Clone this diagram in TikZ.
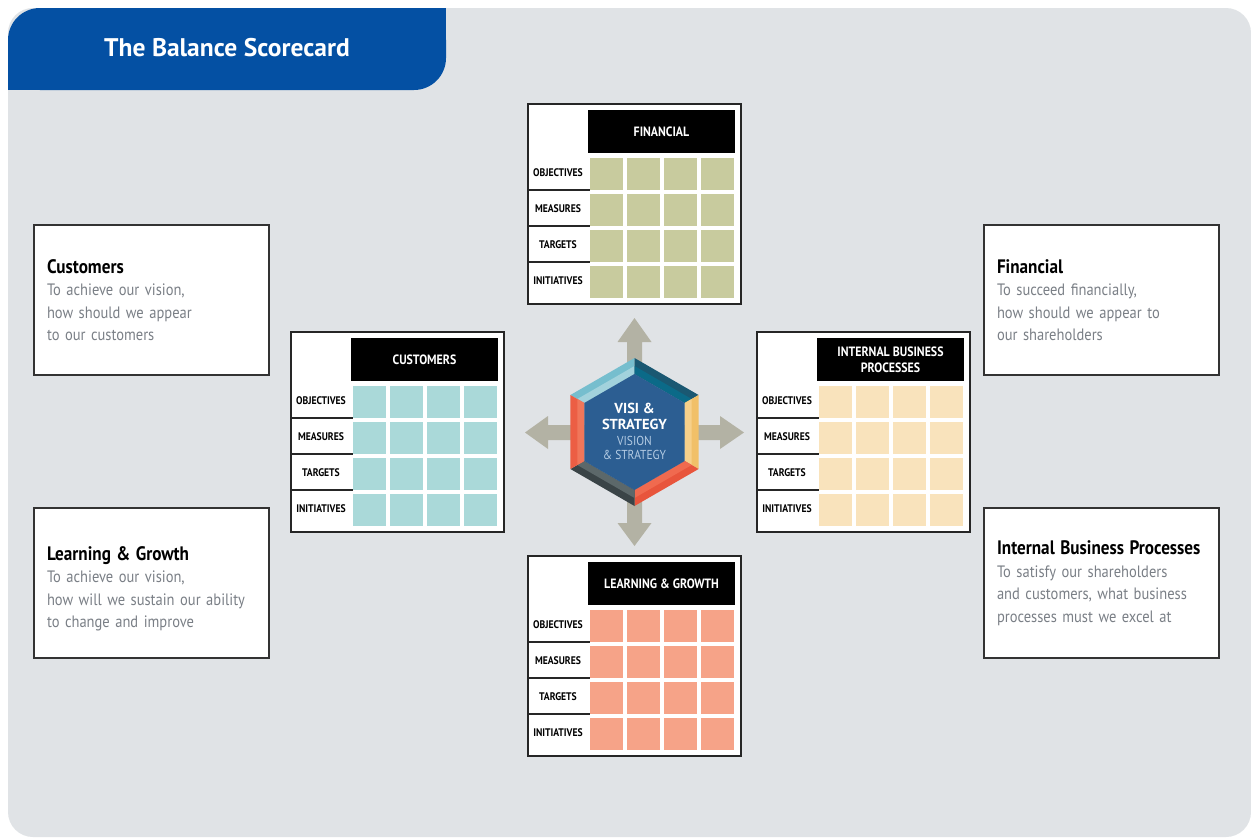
\documentclass[tikz,border=0pt]{standalone}
\usepackage{fontspec}
\setmainfont{PT Sans}
\newfontfamily\condfont{PT Sans}[FakeStretch=0.88]
\usetikzlibrary{calc}
\definecolor{panel}{HTML}{E0E3E6}
\definecolor{tabblue}{HTML}{0450A3}
\definecolor{finfill}{HTML}{C8CB9E}
\definecolor{custfill}{HTML}{AAD9D9}
\definecolor{ibpfill}{HTML}{F9E3BC}
\definecolor{learnfill}{HTML}{F6A388}
\definecolor{arrowgray}{HTML}{B3B2A4}
\definecolor{hexcenter}{HTML}{2C5E92}
\definecolor{bodygray}{HTML}{7A7F86}
\definecolor{vislight}{HTML}{B4CCE4}
\definecolor{hA1}{HTML}{76BECE}\definecolor{hB1}{HTML}{A2D2DC}
\definecolor{hA2}{HTML}{1A5872}\definecolor{hB2}{HTML}{0B6A88}
\definecolor{hA3}{HTML}{F1C068}\definecolor{hB3}{HTML}{F6D08A}
\definecolor{hA4}{HTML}{E8553C}\definecolor{hB4}{HTML}{F06A4F}
\definecolor{hA5}{HTML}{3A4447}\definecolor{hB5}{HTML}{5C686A}
\definecolor{hA6}{HTML}{EC5E44}\definecolor{hB6}{HTML}{F0765A}
\tikzset{
  cardframe/.style={draw=black!85, line width=1.1pt, fill=white, minimum width=213pt, minimum height=200pt, inner sep=0pt},
  cardhead/.style={fill=black, text=white, minimum width=147pt, minimum height=43pt, inner sep=0pt, align=center, font=\condfont\bfseries\fontsize{13.5}{16}\selectfont},
  cell/.style={minimum width=33pt, minimum height=32pt, inner sep=0pt},
  rowlabel/.style={font=\condfont\bfseries\fontsize{11}{12}\selectfont, inner sep=0pt},
  rowrule/.style={line width=1.1pt, draw=black!85},
  infoframe/.style={draw=black!80, line width=1.2pt, fill=white, minimum width=235pt, minimum height=150pt, inner sep=0pt},
  infotext/.style={text width=209pt, inner xsep=13pt, inner ysep=0pt, align=left, text=bodygray, font=\condfont\fontsize{16.5}{22.5}\selectfont},
  infobox/.style={infoframe, infotext},
  hexbold/.style={text=white, inner sep=0pt, font=\bfseries\fontsize{14.5}{15}\selectfont},
  hexlight/.style={text=vislight, inner sep=0pt, font=\condfont\fontsize{13}{13}\selectfont},
}
\newcommand{\bsccard}[5]{%
  \begin{scope}[shift={(#2,#3)}]
    \node[cardframe] (#1) at (106.5,100) {};
    \node[cardhead] (#1-head) at (133.5,27.5) {#5};
    \foreach \r/\lab in {0/OBJECTIVES,1/MEASURES,2/TARGETS,3/INITIATIVES} {
      \node[rowlabel] (#1-lab\r) at (30,{69+36*\r}) {\lab};
      \foreach \c in {0,...,3}
        \node[cell, fill=#4] (#1-c\r\c) at ({78.5+37*\c},{70+36*\r}) {};
    }
    \foreach \r in {1,2,3} \draw[rowrule] (0,{50+36*\r}) -- (62,{50+36*\r});
  \end{scope}}
\newcommand{\boxtitle}[1]{{\color{black}\bfseries\fontsize{19.5}{22.5}\selectfont #1}}
\begin{document}
\begin{tikzpicture}[x=1pt,y=-1pt]
  \useasboundingbox (0,0) rectangle (1251,838);
  \fill[white] (0,0) rectangle (1251,838);
  % panel
  \fill[panel, rounded corners=25pt] (8,8) rectangle (1251,837);
  % title tab
  \fill[tabblue, rounded corners=32pt] (8,8) rectangle (446,90);
  \fill[tabblue] (8,50) rectangle (60,90);
  \fill[tabblue] (400,8) rectangle (446,50);
  \node[text=white, font=\bfseries\fontsize{25.5}{28}\selectfont] (title) at (227,48) {The Balance Scorecard};

  % cards
  \bsccard{fin}{528}{104}{finfill}{FINANCIAL}
  \bsccard{cust}{291}{332}{custfill}{CUSTOMERS}
  \bsccard{ibp}{757}{332}{ibpfill}{INTERNAL BUSINESS\\PROCESSES}
  \bsccard{learn}{528}{556}{learnfill}{LEARNING \& GROWTH}

  % info boxes
  \node[infobox] (custbox) at (151.5,300) {\boxtitle{Customers}\\To achieve our vision,\\how should we appear\\to our customers};
  \node[infoframe] (learnbox) at (151.5,583) {};
  \node[infotext] (learntext) at (151.5,589) {\boxtitle{Learning \& Growth}\\To achieve our vision,\\how will we sustain our ability\\to change and improve};
  \node[infobox] (finbox) at (1101.5,300) {\boxtitle{Financial}\\To succeed financially,\\how should we appear to\\our shareholders};
  \node[infobox] (ibpbox) at (1101.5,583) {\boxtitle{Internal Business Processes}\\To satisfy our shareholders\\and customers, what business\\processes must we excel at};

  % arrows cross
  \fill[arrowgray] (634.5,318) -- (651.5,342) -- (642,342) -- (642,425) -- (720,425) -- (720,416) -- (744,432.5) -- (720,449) -- (720,440) -- (642,440) -- (642,523) -- (651.5,523) -- (634.5,546) -- (617.5,523) -- (627,523) -- (627,440) -- (548,440) -- (548,449) -- (525,432.5) -- (548,416) -- (548,425) -- (627,425) -- (627,342) -- (617.5,342) -- cycle;

  % hexagon
  \coordinate (hc) at (634.5,432);
  \foreach \a/\b/\ca/\cb in {210/270/hA1/hB1, 270/330/hA2/hB2, 330/390/hA3/hB3, 30/90/hA4/hB4, 90/150/hA5/hB5, 150/210/hA6/hB6} {
    \fill[\ca] ($(hc)+(\a:74)$) -- ($(hc)+(\b:74)$) -- ($(hc)+(\b:58)$) -- ($(hc)+(\a:58)$) -- cycle;
    \fill[\cb] ($(hc)+(\a:66)$) -- ($(hc)+(\b:66)$) -- ($(hc)+(\b:58)$) -- ($(hc)+(\a:58)$) -- cycle;
  }
  \fill[hexcenter] ($(hc)+(270:58)$) -- ($(hc)+(330:58)$) -- ($(hc)+(30:58)$) -- ($(hc)+(90:58)$) -- ($(hc)+(150:58)$) -- ($(hc)+(210:58)$) -- cycle;
  \node[hexbold] (vis1) at (634.5,408) {VISI \&};
  \node[hexbold] (vis2) at (634.5,424) {STRATEGY};
  \node[hexlight] (vis3) at (634.5,441) {VISION};
  \node[hexlight] (vis4) at (634.5,455) {\& STRATEGY};
\end{tikzpicture}
\end{document}
